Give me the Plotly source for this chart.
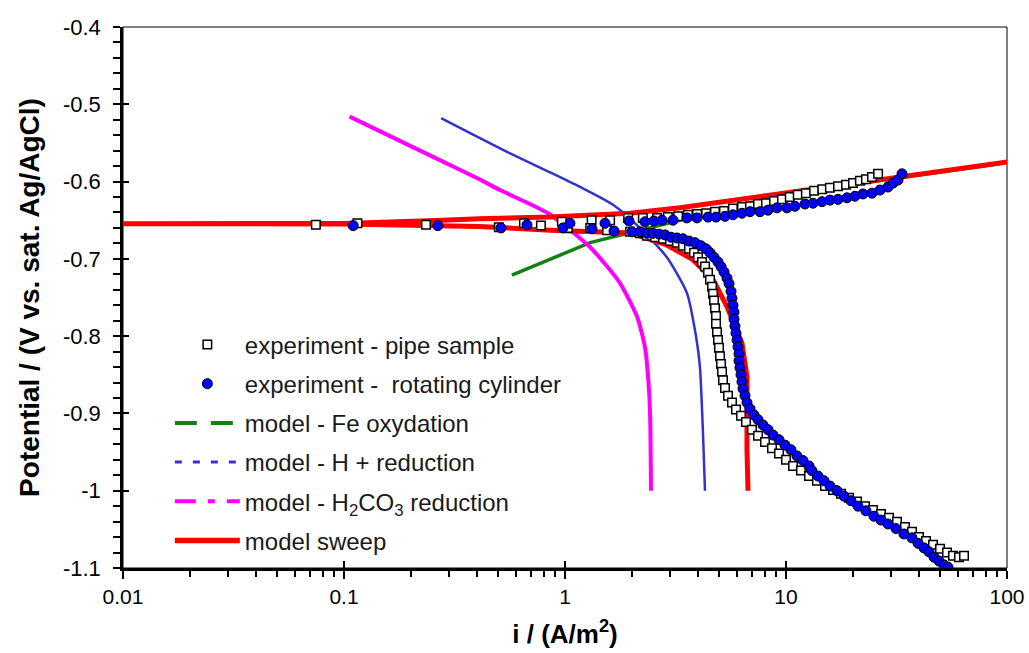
import plotly.graph_objects as go

# ---------------- data: current density i (A/m2) and potential E (V vs. sat. Ag/AgCl)

# experiment - pipe sample
pipe_i = [0.0746, 0.115, 0.235, 0.502, 0.652, 0.778, 0.968, 1.03, 1.32, 1.30, 1.60, 1.55, 1.93, 1.97, 2.25, 2.18,
          2.61, 2.92, 3.25, 3.60, 3.96, 4.35, 4.77, 5.24, 5.75, 6.32, 6.87, 7.47, 8.12, 8.83, 9.59, 10.4, 11.3,
          12.3, 13.4, 14.6, 15.8, 17.2, 18.7, 20.1, 21.6, 23.0, 24.5, 26.1,
          2.35, 2.554, 2.776, 2.987, 3.212, 3.419, 3.64, 3.834, 3.998, 4.168, 4.301, 4.438, 4.531, 4.627, 4.675,
          4.724, 4.773, 4.824, 4.824, 4.874, 4.925, 4.976, 5.029, 5.081, 5.134, 5.188, 5.297, 5.465, 5.697, 5.94,
          6.257, 6.592, 7.018, 7.47, 8.035, 8.644, 9.297, 10.0, 10.76, 11.69, 12.71, 13.81, 15.02, 16.32, 17.74,
          19.28, 20.96, 22.78, 24.76, 26.91, 29.25, 31.79, 34.55, 37.16, 39.98, 43.01, 46.27, 49.77, 53.53,
          56.98, 60.65, 63.9]
pipe_E = [-0.656, -0.654, -0.656, -0.659, -0.654, -0.657, -0.652, -0.660, -0.650, -0.660, -0.650, -0.663, -0.647,
          -0.665, -0.647, -0.667,
          -0.647, -0.646, -0.645, -0.643, -0.642, -0.641, -0.639, -0.638, -0.635, -0.633, -0.632, -0.629, -0.628,
          -0.625, -0.623, -0.620, -0.617, -0.615, -0.612, -0.610, -0.608, -0.606, -0.604, -0.602, -0.599, -0.597,
          -0.594, -0.590,
          -0.670, -0.672, -0.674, -0.677, -0.679, -0.683, -0.687, -0.692, -0.698, -0.704, -0.710, -0.718, -0.727,
          -0.736, -0.745, -0.754, -0.764, -0.774, -0.784, -0.795, -0.805, -0.815, -0.826, -0.836, -0.846, -0.857,
          -0.867, -0.877, -0.886, -0.895, -0.903, -0.911, -0.921, -0.929, -0.937, -0.945, -0.952, -0.960, -0.968,
          -0.974, -0.981, -0.987, -0.994, -0.999, -1.004, -1.009, -1.014, -1.020, -1.025, -1.030, -1.035, -1.040,
          -1.047, -1.053, -1.060, -1.065, -1.070, -1.075, -1.080, -1.084, -1.086, -1.084]

# experiment - rotating cylinder
cyl_i = [0.110, 0.266, 0.513, 0.673, 0.979, 1.053, 1.325, 1.517, 1.666, 1.948, 2.301,
         2.527, 2.747, 3.082, 3.565, 3.954, 4.438, 4.824, 5.297, 5.757, 6.322, 6.873, 7.627, 8.29, 9.105, 10.10,
         10.98, 12.19, 13.25, 14.55, 15.82, 17.19, 18.88, 20.52, 22.30, 24.49, 26.62, 28.94, 30.50, 32.13, 33.49,
         2.011, 2.185, 2.35, 2.501, 2.663, 2.835, 3.018, 3.212, 3.419, 3.64, 3.875, 4.125, 4.345, 4.531, 4.724,
         4.925, 5.081, 5.243, 5.408, 5.523, 5.639, 5.697, 5.757, 5.817, 5.817, 5.877, 5.94, 6.002, 6.064, 6.128,
         6.128, 6.192, 6.257, 6.322, 6.389, 6.523, 6.66, 6.873, 7.165, 7.47, 7.868, 8.29, 8.735, 9.297, 9.897,
         10.53, 11.21, 11.94, 12.71, 13.11, 13.96, 14.86, 15.82, 17.01, 18.30, 19.69, 21.18, 23.01, 25.01, 26.91,
         28.94, 31.46, 34.19, 37.16, 39.57, 42.11, 44.38, 46.75, 49.25, 51.88, 54.08]
cyl_E = [-0.657, -0.657, -0.660, -0.656, -0.660, -0.654, -0.661, -0.654, -0.664, -0.651, -0.652,
         -0.651, -0.650, -0.650, -0.647, -0.647, -0.646, -0.646, -0.645, -0.643, -0.641, -0.639, -0.639, -0.637,
         -0.634, -0.634, -0.632, -0.629, -0.628, -0.626, -0.624, -0.623, -0.621, -0.619, -0.616, -0.615, -0.611,
         -0.607, -0.602, -0.598, -0.590,
         -0.665, -0.665, -0.667, -0.667, -0.668, -0.669, -0.672, -0.673, -0.674, -0.677, -0.679, -0.683, -0.687,
         -0.692, -0.698, -0.704, -0.710, -0.717, -0.725, -0.732, -0.742, -0.751, -0.760, -0.769, -0.778, -0.787,
         -0.796, -0.805, -0.814, -0.823, -0.832, -0.841, -0.850, -0.859, -0.868, -0.877, -0.886, -0.894, -0.902,
         -0.908, -0.915, -0.921, -0.928, -0.934, -0.941, -0.947, -0.955, -0.961, -0.968, -0.974, -0.981, -0.987,
         -0.994, -1.000, -1.007, -1.013, -1.020, -1.026, -1.033, -1.038, -1.043, -1.049, -1.056, -1.061, -1.068,
         -1.074, -1.079, -1.086, -1.091, -1.096, -1.099]

# model - Fe oxidation
fe_i = [0.575, 1.3, 3.31, 10.0, 32.8, 92.9]
fe_E = [-0.721, -0.679, -0.650, -0.616, -0.595, -0.577]

# model - H+ reduction
h_i = [0.275, 0.524, 0.855, 1.17, 1.65, 2.18, 2.89, 3.56, 3.92, 4.08, 4.21, 4.30]
h_E = [-0.518, -0.559, -0.588, -0.607, -0.630, -0.660, -0.698, -0.744, -0.801, -0.840, -0.925, -1.000]

# model - H2CO3 reduction
h2co3_i = [0.106, 0.253, 0.41, 0.508, 0.838, 1.3, 1.77, 2.12, 2.30, 2.40, 2.43, 2.45]
h2co3_E = [-0.516, -0.568, -0.597, -0.611, -0.641, -0.685, -0.731, -0.775, -0.814, -0.870, -0.908, -1.000]

# model sweep: cathodic branch (from -1 V up to E_corr) followed by the anodic branch
sweep_i = [6.73, 6.66, 6.66, 6.52, 6.32, 5.41, 4.68, 3.79, 2.89, 1.97, 0.855, 0.41, 0.28, 0.1, 0.01, 0.005,
           0.005, 0.01, 0.1, 0.28, 0.41, 0.855, 1.97, 3.31, 10.0, 32.8, 100.0, 110.0]
sweep_E = [-1.000, -0.947, -0.853, -0.833, -0.809, -0.762, -0.727, -0.701, -0.682, -0.6665, -0.663, -0.658,
           -0.657, -0.6548, -0.6545, -0.6545,
           -0.6545, -0.6545, -0.6542, -0.650, -0.648, -0.646, -0.641, -0.634, -0.615, -0.594, -0.575, -0.573]

x_tickvals = [0.01, 0.1, 1, 10, 100]
x_ticktext = ["0.01", "0.1", "1", "10", "100"]
x_minor = [m * 10.0 ** e for e in range(-2, 2) for m in range(2, 10)]
y_tickvals = [-0.4, -0.5, -0.6, -0.7, -0.8, -0.9, -1.0, -1.1]
y_ticktext = ["-0.4", "-0.5", "-0.6", "-0.7", "-0.8", "-0.9", "-1", "-1.1"]

legend_names = ["experiment - pipe sample",
                "experiment -\u00a0 rotating cylinder",
                "model - Fe oxydation",
                "model - H + reduction",
                "model - H<sub>2</sub>CO<sub>3</sub> reduction",
                "model sweep"]

FONT = "Liberation Sans, Arial, sans-serif"
GREEN, BLUE, MAGENTA, RED = "#138013", "#3333cc", "#ff00ff", "#ff0000"

fig = go.Figure()

# model curves (drawn as continuous lines in the plot area)
fig.add_trace(go.Scatter(x=fe_i, y=fe_E, mode="lines", line=dict(color=GREEN, width=3.5),
                         showlegend=False, hoverinfo="skip"))
fig.add_trace(go.Scatter(x=h_i, y=h_E, mode="lines",
                         line=dict(color=BLUE, width=2.5, shape="spline", smoothing=0.6),
                         showlegend=False, hoverinfo="skip"))
fig.add_trace(go.Scatter(x=h2co3_i, y=h2co3_E, mode="lines",
                         line=dict(color=MAGENTA, width=4, shape="spline", smoothing=0.6),
                         showlegend=False, hoverinfo="skip"))
fig.add_trace(go.Scatter(x=sweep_i, y=sweep_E, mode="lines", line=dict(color=RED, width=5),
                         showlegend=False, hoverinfo="skip"))

# experimental points
fig.add_trace(go.Scatter(x=pipe_i, y=pipe_E, mode="markers", name=legend_names[0],
                         legendgroup="g1", legendrank=1,
                         marker=dict(symbol="square", size=8.5, color="white",
                                     line=dict(color="black", width=1.5))))
fig.add_trace(go.Scatter(x=cyl_i, y=cyl_E, mode="markers", name=legend_names[1],
                         legendgroup="g2", legendrank=2,
                         marker=dict(symbol="circle", size=10, color="#0000ff",
                                     line=dict(color="black", width=1))))

# legend entries for the model curves, with their dash styles
legend_lines = [
    (legend_names[2], GREEN, 4, "22px,14px", 3),
    (legend_names[3], BLUE, 3, "7px,11px", 4),
    (legend_names[4], MAGENTA, 4, "21px,12px,7px,12px", 5),
    (legend_names[5], RED, 5.5, "solid", 6),
]
for name, color, width, dash, rank in legend_lines:
    fig.add_trace(go.Scatter(x=[None], y=[None], mode="lines", name=name,
                             legendgroup="g%d" % rank, legendrank=rank,
                             line=dict(color=color, width=width, dash=dash)))

# helper trace for the inner halves of the major ticks
fig.add_trace(go.Scatter(x=[None], y=[None], xaxis="x2", yaxis="y2", showlegend=False,
                         hoverinfo="skip"))

axis_common = dict(showgrid=False, zeroline=False, color="black", automargin=False)

fig.update_layout(
    width=1029, height=653,
    margin=dict(l=123, r=22, t=27, b=85),
    paper_bgcolor="white", plot_bgcolor="white",
    font=dict(family=FONT, size=20, color="black"),
    xaxis=dict(type="log", range=[-2, 2], showline=True, linecolor="black", linewidth=2.5,
               ticks="outside", ticklen=8, tickwidth=1.5, tickcolor="black",
               tickmode="array", tickvals=x_tickvals, ticktext=x_ticktext,
               tickfont=dict(family=FONT, size=21, color="black"),
               minor=dict(ticks="outside", ticklen=6, tickwidth=1.5, tickcolor="black",
                          tickmode="array", tickvals=x_minor),
               title=dict(text="<b>i / (A/m<sup>2</sup>)</b>", font=dict(family=FONT, size=26),
                          standoff=18),
               **axis_common),
    yaxis=dict(range=[-1.1, -0.4], showline=True, linecolor="black", linewidth=2.5,
               ticks="outside", ticklen=7, tickwidth=1.5, tickcolor="black",
               tickmode="array", tickvals=y_tickvals, ticktext=y_ticktext,
               tickfont=dict(family=FONT, size=22, color="black"),
               ticklabelstandoff=8,
               minor=dict(ticks="outside", ticklen=7, tickwidth=1.5, tickcolor="black", dtick=0.02),
               title=dict(text="<b>Potential / (V vs. sat. Ag/AgCl)</b>", font=dict(family=FONT, size=28),
                          standoff=16),
               **axis_common),
    xaxis2=dict(type="log", range=[-2, 2], overlaying="x", anchor="y2", side="bottom",
                ticks="inside", ticklen=7, tickwidth=1.5, tickcolor="black",
                tickmode="array", tickvals=x_tickvals, showticklabels=False, showline=False,
                **axis_common),
    yaxis2=dict(range=[-1.1, -0.4], overlaying="y", anchor="x2", side="left",
                ticks="inside", ticklen=6, tickwidth=1.5, tickcolor="black",
                tickmode="array", tickvals=y_tickvals, showticklabels=False, showline=False,
                **axis_common),
    legend=dict(x=0.053, y=0.454, xanchor="left", yanchor="top",
                bgcolor="rgba(0,0,0,0)", borderwidth=0,
                font=dict(family=FONT, size=24, color="#1a1a1a"),
                itemwidth=65, tracegroupgap=5, traceorder="grouped"),
    shapes=[dict(type="rect", xref="paper", yref="paper", x0=0, x1=1, y0=0, y1=1,
                 line=dict(color="black", width=1), layer="below")],
)

fig.write_html("out.html")
